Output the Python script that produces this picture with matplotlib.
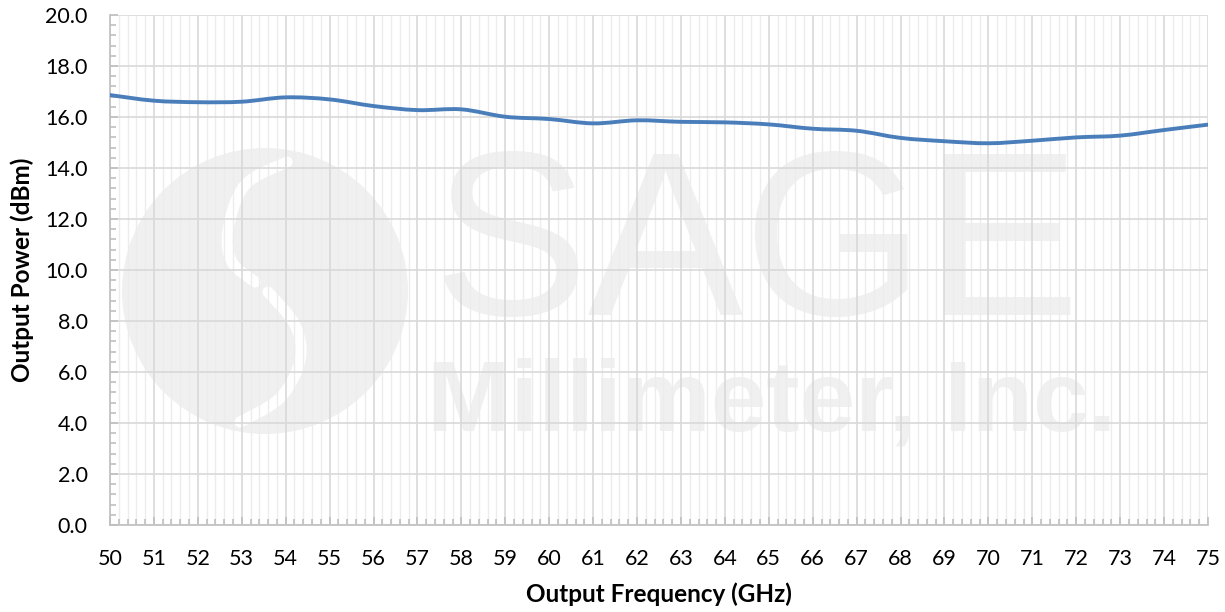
import numpy as np
import matplotlib
matplotlib.use("Agg")
import matplotlib.pyplot as plt
from matplotlib.path import Path
from matplotlib.patches import PathPatch, Ellipse
from matplotlib.ticker import MultipleLocator

# measured output power vs frequency
freq_ghz = [50, 51, 52, 53, 54, 55, 56, 57, 58, 59, 60, 61, 62,
            63, 64, 65, 66, 67, 68, 69, 70, 71, 72, 73, 74, 75]
power_dbm = [16.86, 16.64, 16.58, 16.60, 16.77, 16.69, 16.43, 16.27, 16.30,
             16.01, 15.92, 15.75, 15.87, 15.81, 15.79, 15.71, 15.54, 15.46,
             15.18, 15.05, 14.97, 15.07, 15.20, 15.27, 15.49, 15.70]

x_ticks = list(range(50, 76))
y_ticks = [0, 2, 4, 6, 8, 10, 12, 14, 16, 18, 20]

plt.rcParams['font.family'] = ['Lato', 'DejaVu Sans']

W, H = 1225, 612
# plot area in pixels
L, R, T, B = 110, 1208, 15, 525

fig = plt.figure(figsize=(W / 100, H / 100), dpi=100)
ax = fig.add_axes([L / W, 1 - B / H, (R - L) / W, (B - T) / H])
ax.set_axisbelow(True)


def px2ax(px, py):
    # pixel position in the picture -> axes fraction (for the watermark only)
    return (np.asarray(px) - L) / (R - L), (B - np.asarray(py)) / (B - T)


def smooth_path(xs, ys):
    # excel style smoothed line: cubic bezier with catmull-rom control points
    pts = np.column_stack([xs, ys]).astype(float)
    n = len(pts)
    verts = [pts[0]]
    codes = [Path.MOVETO]
    for i in range(n - 1):
        p0 = pts[i - 1] if i > 0 else pts[i]
        p1 = pts[i]
        p2 = pts[i + 1]
        p3 = pts[i + 2] if i + 2 < n else pts[i + 1]
        c1 = p1 + (p2 - p0) / 6.0
        c2 = p2 - (p3 - p1) / 6.0
        verts += [c1, c2, p2]
        codes += [Path.CURVE4] * 3
    return Path(verts, codes)


# watermark: light grey logo + company name, kept under the grid
wm = '#f0f0f0'
cx, cy = px2ax(265, 291)
ax.add_patch(Ellipse((cx, cy), 2 * 143 / (R - L), 2 * 143 / (B - T),
                     transform=ax.transAxes, facecolor=wm, edgecolor='none',
                     zorder=-3))
gaps = [([287, 245, 228, 232, 255], [162, 185, 230, 262, 282]),
        ([268, 295, 300, 280, 240], [292, 325, 360, 398, 422])]
for gpx, gpy in gaps:
    gx, gy = px2ax(gpx, gpy)
    ax.add_patch(PathPatch(smooth_path(gx, gy), transform=ax.transAxes,
                           facecolor='none', edgecolor='white', lw=8,
                           capstyle='round', zorder=-2))

tx, ty = px2ax(757, 315)
ax.text(tx, ty, 'SAGE', transform=ax.transAxes, color=wm,
        fontsize=168, fontfamily='Liberation Sans',
        ha='center', va='baseline', zorder=-3)
tx, ty = px2ax(772, 430)
ax.text(tx, ty, 'Millimeter, Inc.', transform=ax.transAxes, color=wm,
        fontsize=72, fontfamily='Liberation Sans', fontweight='bold',
        ha='center', va='baseline', zorder=-3)

ax.add_patch(PathPatch(smooth_path(freq_ghz, power_dbm), facecolor='none',
                       edgecolor='#4a7ebb', lw=2.8, capstyle='round', zorder=3))

ax.set_xlim(50, 75)
ax.set_ylim(0, 20)
ax.set_xticks(x_ticks)
ax.set_yticks(y_ticks)
ax.set_yticklabels([f'{v:.1f}' for v in y_ticks])
ax.xaxis.set_minor_locator(MultipleLocator(0.2))
ax.yaxis.set_minor_locator(MultipleLocator(0.4))

ax.grid(which='major', axis='both', color='#d9d9d9', lw=1.2)
ax.grid(which='minor', axis='x', color='#ececec', lw=1.0)

for side in ['top', 'right']:
    ax.spines[side].set_visible(False)
for side in ['left', 'bottom']:
    ax.spines[side].set_color('#bfbfbf')
    ax.spines[side].set_linewidth(1.2)

ax.tick_params(which='both', direction='in', color='#bfbfbf', width=1.2)
ax.tick_params(which='major', length=6, labelsize=15.5)
ax.tick_params(which='minor', length=4)
ax.tick_params(axis='y', which='major', pad=16)
ax.tick_params(axis='x', which='major', pad=17)

ax.set_xlabel('Output Frequency (GHz)', fontsize=17.5, fontweight='bold', labelpad=10)
ax.set_ylabel('Output Power (dBm)', fontsize=17.5, fontweight='bold', labelpad=8)

fig.savefig('out.png', dpi=100)
